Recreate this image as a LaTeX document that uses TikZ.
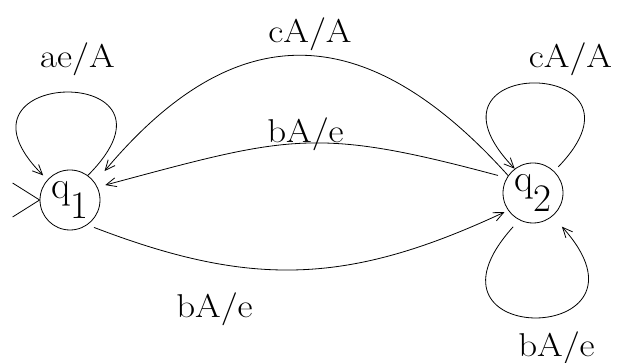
\documentclass[tikz,border=0pt]{standalone}
\usepackage{graphicx}
\usepackage{fontspec}
\usetikzlibrary{arrows.meta}
\newcommand{\qsub}[1]{\raisebox{-20pt}{#1}}
\newcommand{\wide}[1]{\scalebox{1.12}[1]{#1}}
\tikzset{
  stnode/.style={draw, circle, minimum size=60pt, inner sep=0pt, line width=0.8pt,
    font=\fontsize{39}{41}\selectfont},
  trans/.style={draw, line width=0.8pt, -{Straight Barb[length=10pt,width=9pt]}},
  lab/.style={font=\fontsize{33}{36}\selectfont, anchor=base, inner sep=0pt},
}

\begin{document}
\begin{tikzpicture}[x=1pt,y=1pt]
  \useasboundingbox (0,0) rectangle (619,363);

  \node[stnode] (q1) at (70,163) {q\qsub{1}};
  \node[stnode] (q2) at (533,170) {q\qsub{2}};

  % start marker
  \draw[line width=0.8pt] (q1.west) ++(-27,17) -- (q1.west) -- ++(-27,-17);

  % self loops
  \draw[trans, shorten >=6pt] (q1.54) .. controls +(45:160) and +(135:160) .. (q1.138);
  \draw[trans, shorten <=6pt] (q2.46) .. controls +(46:160) and +(134:160) .. (q2.127);
  \draw[trans, shorten <=9pt, shorten >=14pt] (q2.243) .. controls +(228:175) and +(312:175) .. (q2.310);

  % between the states
  \draw[trans, shorten >=15pt] (q2.145) .. controls +(132:216) and +(50:216) .. (q1.35);
  \draw[trans, shorten <=9pt, shorten >=8pt] (q2.150) .. controls +(165:199) and +(15:199) .. (q1.25);
  \draw[trans, shorten <=7pt, shorten >=4pt] (q1.305) .. controls +(-21:176) and +(205:176) .. (q2.215);

  % labels
  \node[lab] (ae) at (77.5,295) {\wide{ae/A}};
  \node[lab] (ctop) at (310,320) {\wide{cA/A}};
  \node[lab] (bmid) at (305.5,220) {\wide{bA/e}};
  \node[lab] (bbot) at (214.5,45) {\wide{bA/e}};
  \node[lab] (cloop) at (570.5,295) {\wide{cA/A}};
  \node[lab] (bloop) at (556.5,6) {\wide{bA/e}};
\end{tikzpicture}
\end{document}
